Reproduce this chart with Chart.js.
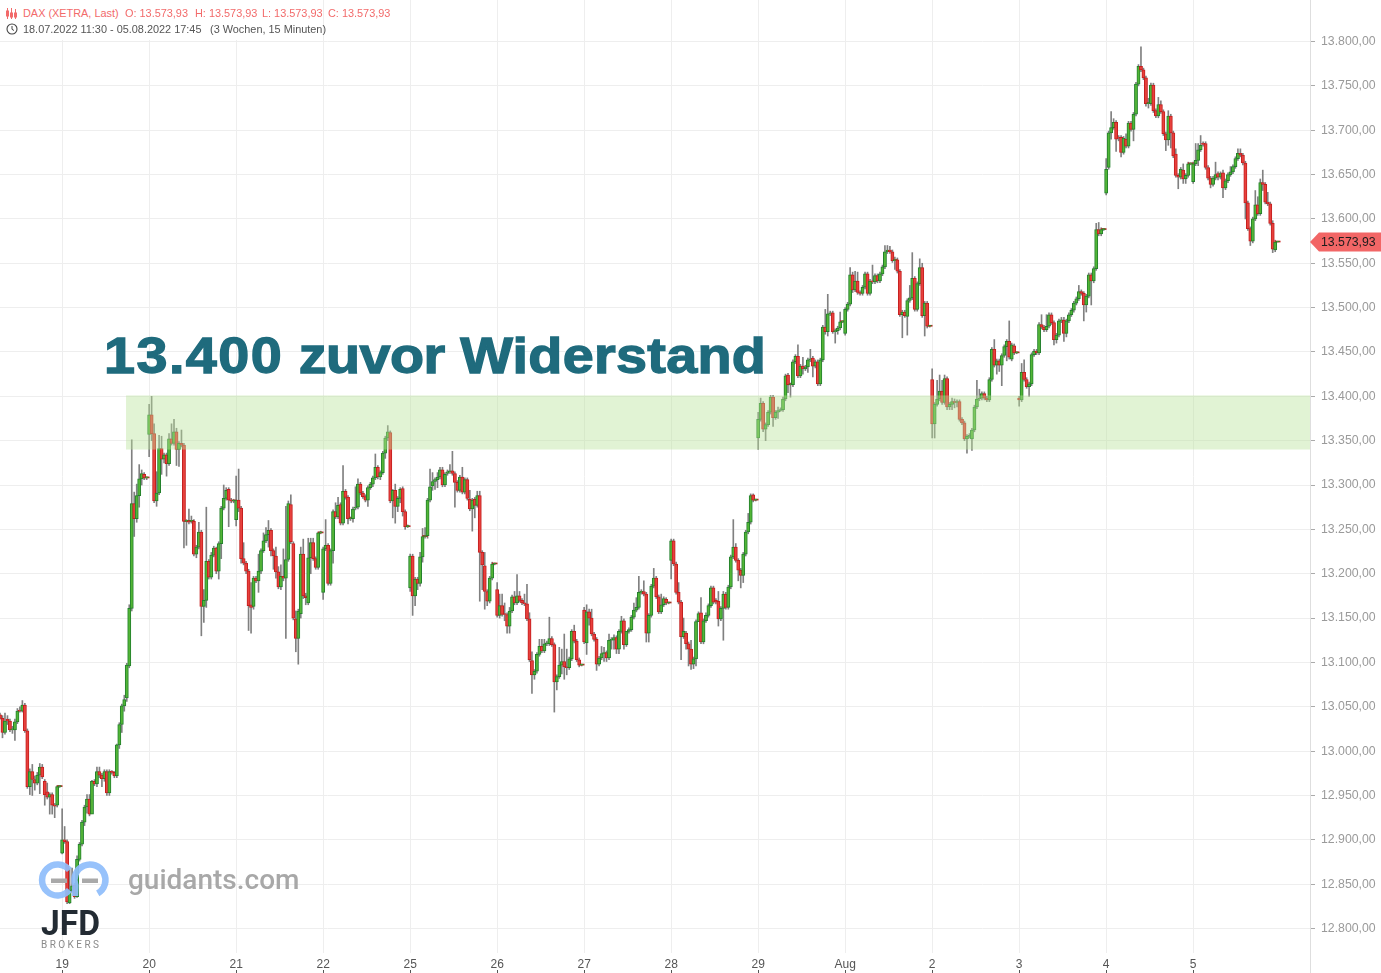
<!DOCTYPE html>
<html lang="de"><head><meta charset="utf-8"><title>DAX</title>
<style>
html,body{margin:0;padding:0;background:#fff;overflow:hidden}
#wrap{position:relative;width:1381px;height:973px;font-family:"Liberation Sans",Arial,sans-serif}
canvas{position:absolute;left:0;top:0}
#hdr{position:absolute;left:0;top:0;width:320px;height:40px;background:#fff}
.t{position:absolute;white-space:pre;font-size:10.9px;line-height:13px}
.r{color:#f26a6a}.g{color:#555}
#big{position:absolute;left:104px;top:326px;font:bold 50px "Liberation Sans";color:#1f6b7d;white-space:pre;line-height:60px;transform:scaleX(1.115);transform-origin:0 0;-webkit-text-stroke:1.3px #1f6b7d}
#gui{position:absolute;left:128px;top:863px;font:500 28px Roboto;color:#a8a8a8;white-space:pre;line-height:34px}
svg{position:absolute;left:0;top:0}
</style></head><body><div id="wrap">
<canvas id="c" width="1381" height="973"></canvas>
<div id="hdr"></div>
<svg width="20" height="40" viewBox="0 0 20 40">
<g stroke="#f26a6a" fill="none" stroke-width="1"><path d="M7.5 8v11M11.5 8v11M15.5 9v10"/><rect x="6.5" y="11" width="2" height="5"/><rect x="10.5" y="13" width="2" height="4"/><rect x="14.5" y="13" width="2" height="4"/></g>
<circle cx="12" cy="29" r="5" fill="none" stroke="#444" stroke-width="1.1"/><path d="M12 26v3.3l2 1.2" fill="none" stroke="#444" stroke-width="1"/>
</svg>
<div class="t r" style="left:23px;top:7px">DAX (XETRA, Last)</div>
<div class="t r" style="left:125px;top:7px">O: 13.573,93</div>
<div class="t r" style="left:195px;top:7px">H: 13.573,93</div>
<div class="t r" style="left:262px;top:7px">L: 13.573,93</div>
<div class="t r" style="left:328px;top:7px">C: 13.573,93</div>
<div class="t g" style="left:23px;top:23px">18.07.2022 11:30 - 05.08.2022 17:45</div>
<div class="t g" style="left:210px;top:23px">(3 Wochen, 15 Minuten)</div>
<div id="big"><span style="letter-spacing:1.3px">13.400</span> <span style="letter-spacing:-.5px">zuvor</span> <span style="letter-spacing:.27px">Widerstand</span></div>
<div id="gui">guidants.com</div>
<svg width="130" height="973" viewBox="0 0 130 973" style="pointer-events:none">
<g fill="none" stroke="#8fbdfb" stroke-width="6.5" opacity=".92">
<path d="M69.4 870 A15.5 15.5 0 1 0 69.4 890"/>
<path d="M97.75 893.4 A15.5 15.5 0 1 0 75.4 885.3 L75 896"/>
</g>
<rect x="51" y="878.5" width="16" height="4.5" fill="#a9a9a9"/><rect x="82" y="878.5" width="16" height="4.5" fill="#a9a9a9"/>
<text x="41" y="935" font-family="Roboto" font-weight="700" font-size="35" fill="#232b33" textLength="59" lengthAdjust="spacingAndGlyphs">JFD</text>
<text x="41" y="948" font-family="Roboto" font-size="10" fill="#8a8a8a" textLength="58">BROKERS</text>
</svg>
</div>
<script src="https://cdn.jsdelivr.net/npm/chart.js@4"></script>
<script>
// Candle values, one line per trading day (18.07. from 11:30, then 35 candles a day)
const opens = [
13041,13037,13021,13036,13034,13024,13024,13033,13046,13045,13052,13023,12960,12977,12968,12964,12973,12982,12966,12954,12948,12951,12939,12939,12960,
12885,12900,12898,12829,12843,12849,12836,12878,12895,12920,12937,12946,12929,12966,12963,12977,12973,12969,12977,12953,12977,12976,12972,13007,13030,13051,13060,13096,13161,13279,13262,13288,13307,13312,13308,
13357,13379,13358,13282,13291,13341,13329,13334,13324,13352,13347,13360,13340,13347,13345,13259,13259,13259,13259,13222,13230,13247,13163,13170,13214,13196,13221,13229,13203,13234,13274,13285,13295,13283,13282,
13261,13283,13274,13217,13212,13203,13165,13163,13195,13192,13203,13226,13237,13244,13249,13226,13220,13202,13185,13197,13195,13216,13278,13234,13149,13127,13155,13222,13175,13167,13218,13235,13217,13207,13246,
13179,13228,13232,13189,13226,13270,13264,13278,13257,13293,13286,13262,13262,13274,13275,13301,13291,13287,13283,13297,13301,13308,13320,13309,13314,13336,13353,13359,13282,13294,13276,13285,13296,13270,13253,
13184,13220,13175,13194,13189,13219,13242,13243,13283,13299,13304,13306,13309,13317,13300,13313,13315,13316,13313,13303,13294,13309,13292,13306,13284,13273,13284,13277,13288,13224,13209,13180,13169,13195,13211,
13182,13153,13164,13155,13154,13141,13158,13174,13167,13175,13170,13167,13166,13149,13102,13086,13090,13109,13118,13113,13121,13121,13127,13120,13078,13084,13097,13101,13095,13094,13104,13135,13124,13103,13097,
13159,13122,13157,13150,13132,13126,13098,13105,13110,13111,13105,13125,13125,13128,13115,13135,13147,13120,13135,13137,13151,13159,13162,13179,13180,13177,13133,13153,13186,13195,13174,13157,13165,13171,13167,
13215,13237,13211,13179,13168,13129,13133,13121,13115,13098,13104,13146,13156,13123,13147,13153,13164,13184,13170,13169,13149,13161,13177,13162,13185,13219,13230,13215,13204,13198,13222,13247,13258,13289,13283,
13353,13374,13392,13363,13368,13382,13399,13376,13382,13384,13385,13397,13424,13413,13413,13439,13445,13423,13434,13431,13433,13441,13443,13434,13439,13414,13441,13478,13473,13493,13494,13473,13474,13477,13484,
13471,13498,13504,13537,13520,13530,13517,13516,13523,13538,13516,13530,13529,13536,13530,13538,13546,13563,13565,13563,13553,13554,13541,13492,13495,13490,13508,13511,13533,13498,13527,13545,13491,13505,13479,
13419,13369,13391,13397,13406,13393,13420,13388,13391,13394,13393,13394,13374,13370,13352,13355,13352,13362,13388,13397,13398,13403,13398,13396,13419,13453,13435,13440,13435,13446,13456,13462,13442,13457,13449,
13398,13396,13427,13419,13411,13414,13447,13451,13449,13481,13478,13475,13479,13492,13483,13464,13469,13485,13486,13471,13485,13492,13497,13505,13510,13518,13516,13503,13513,13537,13530,13544,13588,13583,13588,
13629,13658,13697,13703,13709,13692,13692,13675,13690,13682,13708,13701,13718,13752,13772,13768,13759,13730,13730,13751,13722,13716,13729,13721,13696,13689,13716,13697,13673,13649,13647,13655,13645,13649,13662,
13642,13662,13666,13678,13685,13685,13658,13646,13639,13646,13651,13647,13652,13635,13643,13650,13653,13659,13668,13674,13672,13663,13618,13589,13575,13600,13616,13606,13641,13639,13619,13617,13595,13565,13573.93];
const closes = [
13037,13021,13034,13034,13024,13025,13033,13045,13045,13052,13023,12960,12977,12968,12964,12973,12982,12971,12951,12948,12951,12939,12938,12960,12960,
12900,12898,12830,12843,12848,12836,12878,12895,12920,12937,12946,12929,12966,12963,12977,12973,12969,12977,12953,12977,12976,12972,13007,13030,13051,13058,13097,13161,13279,13262,13288,13307,13313,13308,13308,
13379,13358,13282,13291,13341,13329,13334,13324,13352,13347,13360,13340,13347,13345,13259,13259,13258,13259,13222,13230,13247,13163,13170,13214,13196,13221,13229,13203,13234,13274,13285,13294,13283,13282,13282,
13283,13274,13217,13212,13203,13164,13162,13195,13192,13203,13226,13237,13244,13249,13226,13220,13202,13185,13197,13195,13216,13279,13236,13150,13127,13158,13222,13175,13173,13218,13235,13217,13207,13246,13246,
13228,13232,13189,13226,13270,13264,13277,13257,13293,13286,13262,13262,13273,13275,13301,13291,13287,13283,13297,13301,13308,13320,13309,13314,13336,13353,13360,13282,13294,13276,13285,13295,13270,13253,13253,
13220,13175,13194,13189,13219,13242,13242,13283,13298,13304,13306,13309,13317,13300,13312,13315,13316,13313,13303,13294,13309,13292,13306,13285,13273,13283,13277,13288,13224,13210,13180,13169,13195,13211,13211,
13153,13164,13154,13154,13141,13158,13174,13167,13175,13170,13167,13166,13149,13103,13086,13090,13109,13118,13113,13121,13122,13127,13120,13078,13084,13097,13101,13095,13094,13104,13135,13124,13103,13097,13097,
13123,13157,13150,13132,13126,13098,13105,13110,13111,13105,13125,13126,13128,13115,13135,13147,13120,13135,13137,13151,13159,13162,13179,13180,13177,13133,13153,13186,13195,13174,13157,13165,13172,13167,13167,
13237,13211,13179,13168,13129,13135,13121,13115,13098,13104,13146,13155,13123,13147,13153,13164,13184,13168,13168,13149,13161,13177,13162,13185,13219,13230,13215,13204,13198,13222,13247,13258,13288,13283,13283,
13374,13392,13363,13368,13382,13399,13376,13382,13384,13385,13397,13423,13413,13413,13439,13445,13423,13434,13431,13433,13441,13442,13434,13439,13414,13441,13478,13473,13493,13494,13473,13474,13477,13484,13484,
13498,13504,13537,13520,13530,13517,13516,13523,13538,13516,13530,13529,13536,13530,13538,13546,13563,13565,13563,13553,13553,13541,13492,13495,13491,13508,13511,13533,13498,13527,13545,13491,13505,13479,13479,
13369,13391,13397,13406,13393,13420,13388,13391,13394,13393,13394,13374,13370,13352,13355,13356,13362,13388,13397,13398,13403,13398,13396,13419,13453,13435,13440,13435,13446,13456,13462,13444,13458,13449,13449,
13396,13427,13419,13411,13414,13447,13451,13449,13481,13478,13475,13479,13492,13483,13464,13469,13485,13486,13471,13485,13492,13497,13505,13510,13518,13516,13503,13513,13537,13530,13544,13588,13583,13588,13588,
13656,13697,13703,13709,13690,13691,13675,13691,13682,13708,13701,13718,13752,13772,13768,13759,13730,13730,13751,13722,13716,13729,13721,13696,13689,13716,13697,13671,13649,13647,13656,13645,13649,13662,13662,
13662,13666,13678,13683,13684,13658,13646,13639,13646,13650,13647,13651,13635,13643,13650,13653,13659,13668,13674,13672,13663,13618,13589,13575,13600,13616,13606,13641,13639,13619,13617,13595,13566,13574,13573.93];
const highs = [
13043,13040,13043,13040,13036,13028,13036,13048,13050,13057,13054,13025,12980,12985,12972,12976,12986,12985,12968,12964,12953,12953,12941,12961,12961,
12935,12915,12900,12868,12868,12851,12882,12897,12922,12939,12951,12951,12967,12968,12982,12982,12975,12979,12979,12979,12978,12977,13008,13032,13053,13063,13099,13165,13351,13292,13301,13323,13317,13314,13309,
13391,13400,13369,13315,13356,13355,13336,13336,13358,13369,13374,13364,13349,13362,13347,13261,13273,13265,13261,13232,13258,13249,13182,13275,13216,13224,13231,13230,13236,13276,13300,13297,13297,13285,13284,
13310,13318,13276,13235,13214,13205,13190,13197,13197,13222,13228,13246,13252,13260,13251,13228,13230,13208,13210,13228,13276,13282,13289,13236,13158,13160,13230,13239,13178,13240,13240,13240,13219,13247,13248,
13230,13261,13234,13228,13272,13280,13286,13280,13322,13295,13288,13264,13275,13298,13307,13303,13293,13289,13299,13303,13310,13335,13322,13316,13338,13355,13367,13361,13295,13301,13287,13297,13298,13272,13255,
13222,13222,13196,13196,13224,13251,13252,13285,13318,13314,13308,13314,13320,13320,13314,13317,13323,13338,13315,13305,13311,13320,13308,13308,13294,13285,13286,13293,13293,13226,13224,13182,13197,13213,13212,
13190,13177,13177,13167,13156,13162,13176,13180,13199,13180,13172,13177,13188,13156,13112,13092,13111,13126,13126,13126,13124,13151,13129,13122,13086,13117,13115,13132,13115,13106,13137,13142,13126,13105,13098,
13162,13165,13160,13160,13134,13128,13107,13118,13117,13113,13132,13128,13131,13130,13137,13152,13149,13122,13139,13153,13167,13173,13197,13182,13192,13179,13155,13188,13206,13197,13176,13177,13174,13173,13168,
13239,13239,13213,13190,13170,13150,13135,13123,13125,13106,13148,13157,13173,13149,13156,13166,13186,13186,13172,13180,13163,13180,13179,13187,13221,13261,13234,13217,13206,13224,13249,13268,13290,13290,13284,
13382,13398,13394,13370,13384,13401,13401,13384,13388,13387,13399,13425,13426,13415,13441,13447,13458,13436,13444,13435,13443,13453,13445,13441,13441,13443,13480,13498,13515,13496,13496,13476,13479,13495,13485,
13500,13506,13545,13540,13541,13540,13519,13525,13540,13540,13532,13548,13538,13538,13540,13548,13570,13570,13569,13565,13557,13556,13543,13497,13497,13510,13525,13562,13535,13529,13555,13550,13507,13507,13480,
13431,13393,13418,13424,13418,13424,13422,13393,13398,13397,13396,13396,13376,13372,13357,13358,13364,13390,13418,13408,13405,13405,13400,13421,13455,13464,13442,13442,13448,13458,13464,13485,13460,13459,13450,
13400,13437,13441,13421,13416,13449,13453,13453,13483,13492,13480,13492,13494,13494,13485,13471,13487,13489,13489,13487,13494,13499,13507,13512,13525,13520,13518,13515,13539,13539,13546,13595,13596,13590,13589,
13668,13699,13721,13713,13711,13694,13694,13693,13696,13710,13710,13720,13754,13774,13794,13770,13761,13736,13753,13753,13724,13737,13733,13723,13698,13722,13718,13699,13679,13651,13658,13662,13651,13664,13663,
13664,13685,13685,13694,13687,13687,13660,13648,13648,13664,13653,13653,13655,13645,13652,13659,13661,13670,13679,13679,13674,13665,13620,13591,13602,13632,13625,13645,13655,13641,13630,13619,13598,13576,13573.93];
const lows = [
13036,13015,13019,13030,13022,13020,13012,13031,13044,13044,13021,12958,12951,12950,12956,12962,12952,12969,12939,12946,12929,12929,12925,12937,12959,
12884,12896,12828,12828,12841,12834,12835,12876,12893,12916,12930,12927,12945,12961,12960,12970,12960,12966,12950,12950,12974,12970,12970,13003,13021,13045,13056,13094,13158,13242,13258,13275,13300,13306,13306,
13332,13350,13280,13276,13289,13312,13325,13310,13322,13345,13345,13322,13321,13343,13229,13232,13256,13257,13220,13218,13228,13130,13145,13162,13194,13194,13219,13200,13194,13217,13272,13283,13253,13280,13280,
13254,13270,13212,13210,13200,13136,13133,13160,13190,13179,13200,13224,13235,13230,13220,13205,13195,13183,13182,13192,13127,13214,13234,13148,13112,13098,13150,13172,13165,13165,13200,13215,13205,13205,13245,
13171,13226,13187,13187,13212,13262,13262,13255,13255,13284,13256,13260,13258,13272,13273,13289,13285,13281,13276,13295,13298,13306,13307,13306,13312,13330,13350,13280,13263,13257,13270,13280,13265,13250,13252,
13180,13153,13164,13182,13186,13213,13240,13240,13281,13294,13295,13297,13307,13298,13298,13311,13313,13311,13275,13292,13292,13290,13290,13283,13271,13248,13263,13275,13169,13182,13160,13164,13167,13193,13210,
13151,13150,13152,13147,13133,13133,13156,13165,13165,13168,13165,13164,13147,13101,13065,13081,13088,13107,13111,13111,13119,13119,13118,13044,13069,13082,13087,13081,13086,13092,13102,13122,13101,13095,13096,
13121,13109,13142,13130,13124,13091,13096,13103,13101,13101,13103,13115,13115,13110,13110,13133,13115,13118,13133,13135,13149,13157,13160,13177,13175,13123,13123,13151,13184,13172,13155,13155,13163,13165,13166,
13194,13209,13177,13166,13103,13127,13115,13096,13092,13093,13096,13153,13121,13121,13145,13151,13162,13166,13166,13141,13147,13125,13160,13160,13183,13217,13213,13192,13184,13190,13220,13245,13256,13281,13282,
13340,13372,13360,13350,13366,13380,13366,13374,13375,13383,13383,13395,13404,13399,13411,13437,13421,13421,13425,13429,13427,13439,13422,13432,13412,13412,13439,13470,13468,13491,13471,13460,13470,13475,13483,
13469,13496,13502,13517,13518,13515,13514,13514,13521,13514,13514,13527,13527,13528,13528,13536,13544,13561,13561,13551,13543,13539,13490,13466,13489,13469,13506,13509,13496,13496,13525,13489,13468,13477,13478,
13353,13353,13389,13395,13391,13391,13385,13385,13385,13387,13388,13372,13368,13350,13336,13353,13339,13360,13386,13395,13396,13396,13394,13394,13417,13433,13425,13428,13412,13444,13440,13442,13440,13447,13448,
13389,13394,13417,13409,13400,13412,13445,13447,13447,13476,13473,13473,13477,13481,13458,13460,13467,13483,13462,13467,13483,13490,13495,13503,13508,13514,13485,13495,13511,13503,13528,13542,13581,13581,13587,
13627,13656,13690,13701,13676,13688,13670,13673,13680,13680,13699,13688,13716,13750,13766,13757,13727,13725,13728,13720,13714,13714,13719,13694,13677,13683,13680,13669,13647,13634,13645,13640,13640,13647,13661,
13640,13660,13660,13676,13682,13656,13644,13635,13637,13644,13644,13645,13624,13633,13641,13648,13651,13657,13666,13670,13661,13600,13587,13570,13573,13598,13604,13604,13632,13617,13615,13593,13562,13563,13573.93];
const dayLabels = ['19','20','21','22','25','26','27','28','29','Aug','2','3','4','5'];
const dayStarts = [25,60,95,130,165,200,235,270,305,340,375,410,445,480];
const yTickValues = [12800,12850,12900,12950,13000,13050,13100,13150,13200,13250,13300,13350,13400,13450,13500,13550,13600,13650,13700,13750,13800];
const lastPrice = 13573.93;
const zoneHigh = 13401, zoneLow = 13340;

const slots = Array.from({length:528},(_,i)=>i);   // 15-minute slots incl. free space right of the last candle
const de = v => v.toLocaleString('de-DE',{minimumFractionDigits:2,maximumFractionDigits:2});
const up = i => closes[i] >= opens[i];

const overlay = {
  id:'overlay',
  afterDatasetsDraw(ch){
    const {ctx,scales:{x,y},chartArea:a} = ch;
    ctx.save();
    // support zone
    const xs = x.getPixelForValue(50.7);
    const yt = y.getPixelForValue(zoneHigh), yb = y.getPixelForValue(zoneLow);
    ctx.fillStyle = 'rgba(184,226,152,0.42)';
    ctx.fillRect(xs,yt,a.right-xs,yb-yt);
    ctx.restore();
  },
  afterDraw(ch){
    const {ctx,scales:{x,y},chartArea:a} = ch;
    ctx.save();
    // y axis line continues down to the page edge
    ctx.strokeStyle='#dedede'; ctx.lineWidth=1;
    ctx.beginPath(); ctx.moveTo(a.right+.5,a.bottom); ctx.lineTo(a.right+.5,973); ctx.stroke();
    // short ticks under the date labels
    ctx.strokeStyle='#555';
    dayStarts.forEach(d=>{const px=Math.round(x.getPixelForValue(d))+.5;ctx.beginPath();ctx.moveTo(px,970);ctx.lineTo(px,973);ctx.stroke();});
    // last price tag
    const py = y.getPixelForValue(lastPrice);
    ctx.fillStyle='#f26666';
    ctx.beginPath(); ctx.moveTo(a.right,py); ctx.lineTo(a.right+9,py-9.5); ctx.lineTo(1381,py-9.5); ctx.lineTo(1381,py+9.5); ctx.lineTo(a.right+9,py+9.5); ctx.closePath(); ctx.fill();
    ctx.fillStyle='#1c1c1c'; ctx.font='12.3px "Liberation Sans"'; ctx.textAlign='left'; ctx.textBaseline='middle';
    ctx.fillText(de(lastPrice),1321,py+.5);
    ctx.restore();
  }
};

new Chart(document.getElementById('c'),{
  type:'bar',
  data:{labels:slots,datasets:[
    {label:'wick',data:lows.map((l,i)=>[l,highs[i]]),grouped:false,barThickness:1,backgroundColor:'#808080',borderWidth:0,order:3},
    {label:'doji',data:opens.map((o,i)=>o===closes[i]?[o,closes[i]]:null),grouped:false,barThickness:5,minBarLength:1,backgroundColor:'#c8201f',borderWidth:0,order:2},
    {label:'body',data:opens.map((o,i)=>[o,closes[i]]),grouped:false,barThickness:3.2,minBarLength:1,
     backgroundColor:c=>up(c.dataIndex)?'#52b536':'#e8403c',
     borderColor:c=>up(c.dataIndex)?'#23802c':'#c31f1f',borderWidth:1,borderSkipped:false,order:1}
  ]},
  options:{
    responsive:false,animation:false,devicePixelRatio:1,
    layout:{padding:0},
    plugins:{legend:{display:false},tooltip:{enabled:false}},
    scales:{
      x:{type:'category',offset:false,
        afterBuildTicks:s=>{s.ticks=dayStarts.map(v=>({value:v}));},
        afterFit:s=>{s.height=20;s.paddingLeft=0;s.paddingRight=0;},
        grid:{color:'#eeeeee',drawTicks:false,offset:false},border:{display:false},
        ticks:{autoSkip:false,maxRotation:0,padding:4,color:'#555',font:{family:'Liberation Sans',size:12},callback:(v,i)=>dayLabels[i]}},
      y:{type:'linear',position:'right',min:12772.4,max:13846.8,
        afterBuildTicks:s=>{s.ticks=yTickValues.map(v=>({value:v}));},
        afterFit:s=>{s.width=71;s.paddingTop=0;s.paddingBottom=0;},
        grid:{color:'#eeeeee',tickColor:'#aaaaaa',tickLength:5},border:{color:'#dedede'},
        ticks:{padding:6,color:'#9a9a9a',font:{family:'Liberation Sans',size:12.3},callback:v=>de(v)}}
    }
  },
  plugins:[overlay]
});
</script></body></html>
